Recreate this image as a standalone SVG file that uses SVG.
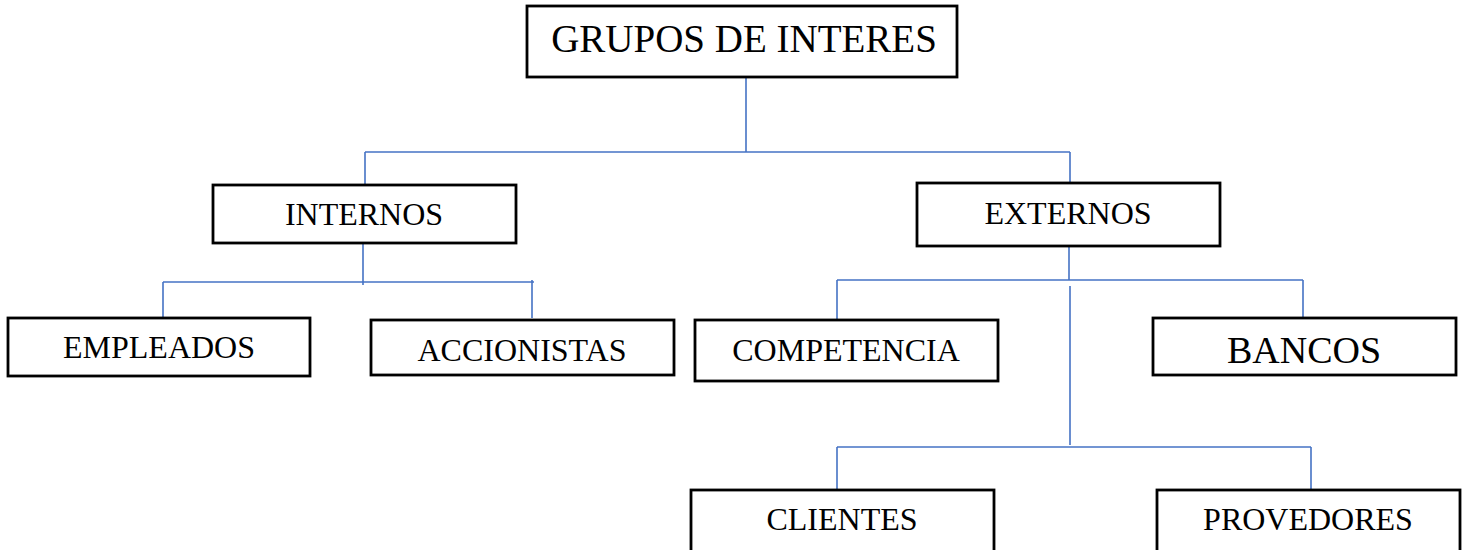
<svg xmlns="http://www.w3.org/2000/svg" width="1470" height="550" viewBox="0 0 1470 550">
<style>
.box{fill:#fff;stroke:#000;stroke-width:2.8}
.lbl{font-family:"Liberation Serif","Times New Roman",serif;font-size:32px;fill:#000;text-anchor:middle}
.con line{stroke:#4472C4;stroke-width:1.6;fill:none}
</style>
<rect width="1470" height="550" fill="#fff"/>
<g id="connectors" class="con">
<line x1="746" y1="77" x2="746" y2="152"/>
<line x1="365" y1="152" x2="1070" y2="152"/>
<line x1="365" y1="152" x2="365" y2="185"/>
<line x1="1070" y1="152" x2="1070" y2="183"/>
<line x1="363" y1="243" x2="363" y2="285"/>
<line x1="163" y1="282" x2="534" y2="282"/>
<line x1="163" y1="282" x2="163" y2="318"/>
<line x1="532" y1="280" x2="532" y2="318"/>
<line x1="1069" y1="246" x2="1069" y2="280"/>
<line x1="837" y1="280" x2="1303" y2="280"/>
<line x1="837" y1="280" x2="837" y2="320"/>
<line x1="1303" y1="280" x2="1303" y2="318"/>
<line x1="1070" y1="286" x2="1070" y2="445"/>
<line x1="837" y1="447" x2="1311" y2="447"/>
<line x1="837" y1="447" x2="837" y2="490"/>
<line x1="1311" y1="447" x2="1311" y2="490"/>
</g>
<g id="grupos">
<rect class="box" x="527" y="6" width="430" height="71"/>
<text class="lbl" x="744" y="52" style="font-size:39px">GRUPOS DE INTERES</text>
</g>
<g id="internos">
<rect class="box" x="213" y="185" width="303" height="58"/>
<text class="lbl" x="364" y="225">INTERNOS</text>
</g>
<g id="externos">
<rect class="box" x="917" y="183" width="303" height="63"/>
<text class="lbl" x="1068" y="224">EXTERNOS</text>
</g>
<g id="empleados">
<rect class="box" x="8" y="318" width="302" height="58"/>
<text class="lbl" x="159" y="358">EMPLEADOS</text>
</g>
<g id="accionistas">
<rect class="box" x="371" y="320" width="303" height="55"/>
<text class="lbl" x="522" y="361">ACCIONISTAS</text>
</g>
<g id="competencia">
<rect class="box" x="695" y="320" width="303" height="61"/>
<text class="lbl" x="846" y="361">COMPETENCIA</text>
</g>
<g id="bancos">
<rect class="box" x="1153" y="318" width="303" height="57"/>
<text class="lbl" x="1304" y="363" style="font-size:38px">BANCOS</text>
</g>
<g id="clientes">
<rect class="box" x="691" y="490" width="303" height="75"/>
<text class="lbl" x="842" y="530">CLIENTES</text>
</g>
<g id="provedores">
<rect class="box" x="1157" y="490" width="303" height="75"/>
<text class="lbl" x="1308" y="530">PROVEDORES</text>
</g>
</svg>
